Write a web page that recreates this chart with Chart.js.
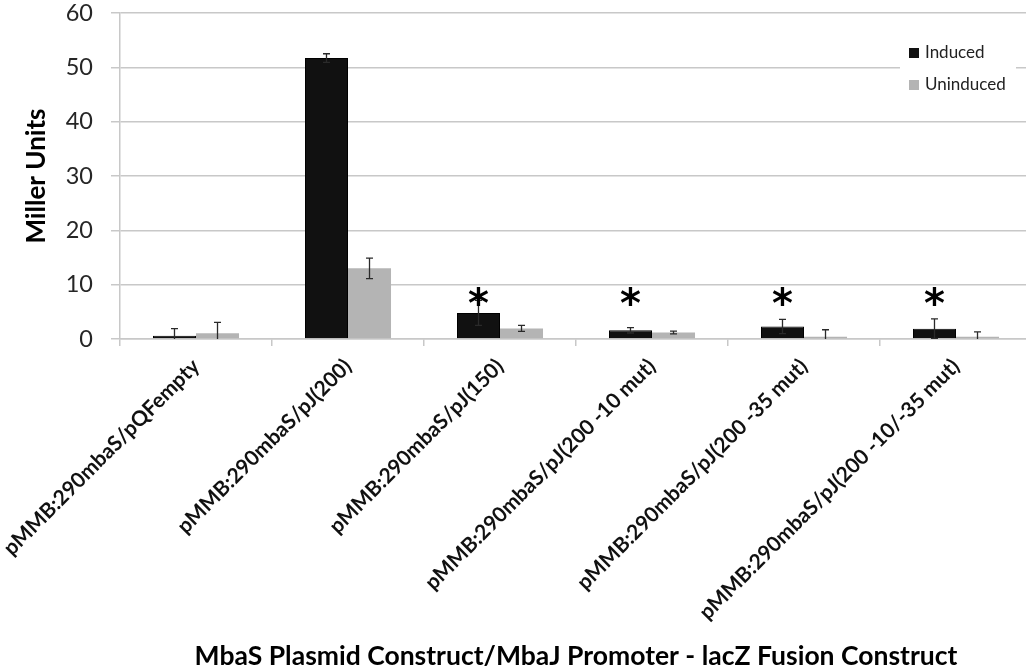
<!DOCTYPE html>
<html>
<head>
<meta charset="utf-8">
<script src="https://cdn.jsdelivr.net/npm/chart.js@4.4.1/dist/chart.umd.min.js"></script>
<style>
  html, body { margin: 0; padding: 0; background: #fff; overflow: hidden; }
  #wrap { width: 1026px; height: 672px; overflow: hidden; }
  canvas { display: block; }
</style>
</head>
<body>
<div id="wrap"><canvas id="c" width="1040" height="672"></canvas></div>
<script>
// Constructs (plasmid / promoter fusion)
const constructs = [
  'pMMB:290mbaS/pQFempty',
  'pMMB:290mbaS/pJ(200)',
  'pMMB:290mbaS/pJ(150)',
  'pMMB:290mbaS/pJ(200 -10 mut)',
  'pMMB:290mbaS/pJ(200 -35 mut)',
  'pMMB:290mbaS/pJ(200 -10/-35 mut)'
];
// beta-galactosidase activity (Miller units) and standard deviations
const induced = [0.6, 51.7, 4.8, 1.6, 2.3, 1.9];
const inducedErr = [1.3, 0.8, 2.3, 0.5, 1.3, 1.8];
const uninduced = [1.05, 13.0, 1.95, 1.2, 0.4, 0.4];
const uninducedErr = [2.0, 1.9, 0.55, 0.25, 1.3, 0.9];
// significance marks over the induced bars
const significant = [false, false, true, true, true, true];
const starLevel = 7.9;
const yTicks = [0, 10, 20, 30, 40, 50, 60];

const GRID = '#c8c8c8';

const errorBars = {
  id: 'errorBars',
  afterDatasetsDraw(chart) {
    const { ctx, chartArea, scales: { y } } = chart;
    ctx.save();
    ctx.beginPath();
    ctx.rect(chartArea.left, chartArea.top, chartArea.right - chartArea.left, chartArea.bottom - chartArea.top);
    ctx.clip();
    ctx.strokeStyle = '#2a2a2a';
    ctx.lineWidth = 1.3;
    chart.data.datasets.forEach((ds, di) => {
      const meta = chart.getDatasetMeta(di);
      meta.data.forEach((bar, i) => {
        const v = ds.data[i], e = ds.errors[i];
        const x = bar.x;
        const yTop = y.getPixelForValue(v + e);
        const yBot = y.getPixelForValue(v - e);
        ctx.beginPath();
        ctx.moveTo(x, yTop); ctx.lineTo(x, yBot);
        ctx.moveTo(x - 3.5, yTop); ctx.lineTo(x + 3.5, yTop);
        ctx.moveTo(x - 3.5, yBot); ctx.lineTo(x + 3.5, yBot);
        ctx.stroke();
      });
    });
    ctx.restore();
  }
};

const stars = {
  id: 'stars',
  afterDatasetsDraw(chart) {
    const { ctx, scales: { y } } = chart;
    const meta = chart.getDatasetMeta(0);
    ctx.save();
    ctx.fillStyle = '#000';
    ctx.font = 'bold 40px "DejaVu Sans"';
    ctx.textAlign = 'center';
    ctx.textBaseline = 'alphabetic';
    const m = ctx.measureText('*');
    const mid = (m.actualBoundingBoxAscent - m.actualBoundingBoxDescent) / 2;
    significant.forEach((s, i) => {
      if (!s) return;
      const x = meta.data[i].x;
      ctx.fillText('*', x, y.getPixelForValue(starLevel) + mid);
    });
    ctx.restore();
  }
};

const boxLegend = {
  id: 'boxLegend',
  afterDraw(chart) {
    const { ctx } = chart;
    ctx.save();
    ctx.fillStyle = '#fff';
    ctx.fillRect(900, 34, 116, 68);
    ctx.font = '17px Lato';
    ctx.textBaseline = 'middle';
    ctx.textAlign = 'left';
    chart.data.datasets.forEach((ds, i) => {
      const cy = 53 + i * 32;
      ctx.fillStyle = ds.backgroundColor;
      ctx.fillRect(909, cy - 5, 10, 10);
      ctx.fillStyle = '#222';
      ctx.fillText(ds.label, 925, cy);
    });
    ctx.restore();
  }
};

new Chart(document.getElementById('c'), {
  type: 'bar',
  data: {
    labels: constructs,
    datasets: [
      { label: 'Induced', data: induced, errors: inducedErr, backgroundColor: '#111111', borderColor: '#000', borderWidth: 1 },
      { label: 'Uninduced', data: uninduced, errors: uninducedErr, backgroundColor: '#b4b4b4', borderWidth: 0 }
    ]
  },
  options: {
    responsive: false,
    devicePixelRatio: 1,
    animation: false,
    layout: { padding: { top: 13, right: 8, left: 0, bottom: 0 } },
    datasets: { bar: { categoryPercentage: 0.566, barPercentage: 1 } },
    plugins: { legend: { display: false }, tooltip: { enabled: false } },
    scales: {
      y: {
        min: 0, max: 60,
        afterBuildTicks: s => { s.ticks = yTicks.map(v => ({ value: v })); },
        afterFit: s => { s.width = 120; s.paddingTop = 0; s.paddingBottom = 0; },
        ticks: { font: { family: 'Lato', size: 23.5 }, color: '#262626', padding: 18 },
        grid: { color: GRID, lineWidth: 1.5, tickLength: 9 },
        border: { color: GRID, width: 1.5 },
        title: { display: true, text: 'Miller Units', font: { family: 'Lato', size: 26, weight: 'bold' }, color: '#000', padding: { top: 21, bottom: 0 } }
      },
      x: {
        afterFit: s => { s.height = 333; s.paddingLeft = 0; s.paddingRight = 0; },
        offset: true,
        grid: { drawOnChartArea: false, color: GRID, lineWidth: 1.5, tickLength: 7, offset: true },
        border: { color: GRID, width: 1.5 },
        ticks: { font: { family: 'Lato', size: 21, weight: 'bold' }, color: '#111', minRotation: 45, maxRotation: 45, padding: 8, autoSkip: false },
        title: { display: true, text: 'MbaS Plasmid Construct/MbaJ Promoter - lacZ Fusion Construct', font: { family: 'Lato', size: 26.5, weight: 'bold' }, color: '#000', padding: { top: 0, bottom: 0 } }
      }
    }
  },
  plugins: [errorBars, stars, boxLegend]
});
</script>
</body>
</html>
